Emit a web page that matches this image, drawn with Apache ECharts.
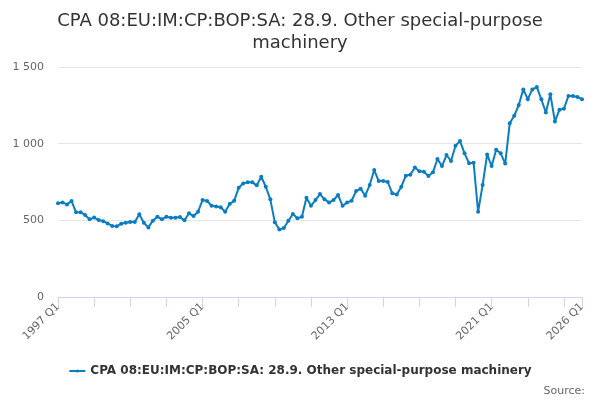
<!DOCTYPE html>
<html>
<head>
<meta charset="utf-8">
<script src="https://cdn.jsdelivr.net/npm/echarts@6/dist/echarts.min.js"></script>
<style>
html,body{margin:0;padding:0;background:#fff;}
#chart{width:600px;height:400px;}
</style>
</head>
<body>
<div id="chart"></div>
<script>
// quarterly values, 1997 Q1 .. 2026 Q1
var firstYear = 1997;
var lastYear = 2026;
var seriesName = 'CPA 08:EU:IM:CP:BOP:SA: 28.9. Other special-purpose machinery';
var values1997to2001 = [611, 617, 604, 626, 552, 552, 535, 507, 518, 502, 494, 480, 463, 461, 478, 484, 489, 489, 539, 484];
var values2002to2006 = [454, 498, 524, 507, 524, 517, 517, 521, 500, 546, 528, 556, 632, 626, 595, 591, 585, 556, 606, 628];
var values2007to2011 = [712, 741, 748, 748, 728, 784, 719, 637, 487, 441, 450, 497, 541, 513, 524, 647, 595, 632, 671, 637];
var values2012to2016 = [617, 632, 665, 595, 617, 628, 691, 706, 661, 730, 828, 756, 756, 750, 676, 669, 719, 791, 798, 845];
var values2017to2021 = [820, 817, 789, 813, 900, 854, 926, 887, 987, 1017, 937, 872, 876, 556, 730, 930, 854, 960, 937, 870];
var values2022to2026 = [1133, 1182, 1252, 1354, 1290, 1354, 1369, 1289, 1203, 1322, 1145, 1221, 1228, 1311, 1311, 1305, 1290];
var yTicks = [0, 500, 1000, 1500];

var values = [].concat(values1997to2001, values2002to2006, values2007to2011,
	values2012to2016, values2017to2021, values2022to2026);

var categories = [];
for (var y = firstYear; y <= lastYear; y++) {
	for (var q = 1; q <= 4; q++) {
		if (y == lastYear && q > 1) break;
		categories.push(y + ' Q' + q);
	}
}
var lastIdx = categories.length - 1;

var myChart = echarts.init(document.getElementById('chart'));
var option = {
	animation: false,
	textStyle: { fontFamily: 'DejaVu Sans' },
	title: [{
		text: 'CPA 08:EU:IM:CP:BOP:SA: 28.9. Other special-purpose\nmachinery',
		left: 'center',
		top: 5,
		textStyle: { fontSize: 18, fontWeight: 'normal', color: '#333333', lineHeight: 22, align: 'center' }
	}, {
		text: 'Source:',
		right: 10,
		top: 381,
		textStyle: { fontSize: 11, fontWeight: 'normal', color: '#666666' }
	}],
	legend: {
		data: [seriesName],
		bottom: 18,
		left: 'center',
		itemWidth: 16,
		itemHeight: 4,
		textStyle: { fontSize: 12, fontWeight: 'bold', color: '#333333' }
	},
	grid: { left: 58, right: 18, top: 67, bottom: 103 },
	xAxis: {
		type: 'category',
		data: categories,
		boundaryGap: false,
		axisLine: { lineStyle: { color: '#ccd6eb' } },
		axisTick: {
			length: 10,
			lineStyle: { color: '#ccd6eb' },
			interval: function (i) { return i % 8 === 0 || i === lastIdx; }
		},
		axisLabel: {
			rotate: 45,
			color: '#666666',
			fontSize: 11,
			interval: function (i) { return i % 32 === 0 || i === lastIdx; }
		}
	},
	yAxis: {
		type: 'value',
		min: yTicks[0],
		max: yTicks[yTicks.length - 1],
		interval: 500,
		axisLine: { show: false },
		axisTick: { show: false },
		splitLine: { lineStyle: { color: '#e6e6e6' } },
		axisLabel: {
			color: '#666666',
			fontSize: 11,
			margin: 14,
			formatter: function (v) { return String(v).replace(/\B(?=(\d{3})+(?!\d))/g, ' '); }
		}
	},
	series: [{
		name: seriesName,
		type: 'line',
		data: values,
		symbol: 'circle',
		symbolSize: 4,
		showAllSymbol: true,
		color: '#0a7dc2',
		lineStyle: { width: 2 }
	}]
};
myChart.setOption(option);
</script>
</body>
</html>
